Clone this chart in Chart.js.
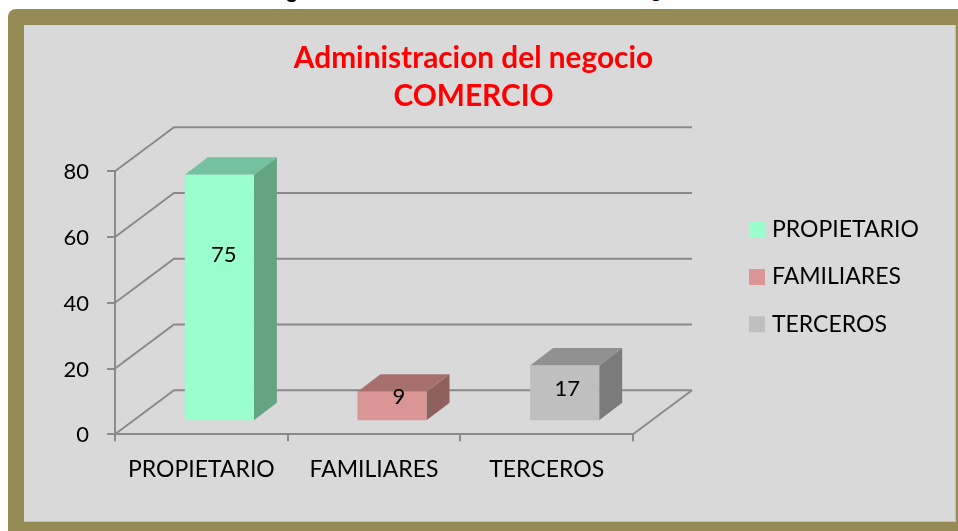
<!DOCTYPE html>
<html><head><meta charset="utf-8">
<style>
html,body{margin:0;padding:0;width:958px;height:531px;background:#fff;overflow:hidden}
#frame{position:absolute;left:8px;top:9px;width:950px;height:522px;background:#948a54;border-radius:8px 0 0 0}
#panel{position:absolute;left:24px;top:25px;width:931px;height:496px;background:#d9d9d9;border:solid #c4c2ae;border-width:0 1px 1px 0}
canvas{position:absolute;left:0;top:0}
.cap{position:absolute;top:-22px;font:20px Lato,sans-serif;color:#000;white-space:nowrap;line-height:24px}
</style>
<script src="https://cdn.jsdelivr.net/npm/chart.js@4/dist/chart.umd.min.js"></script>
</head><body>
<div id="frame"></div><div id="panel"></div>
<span class="cap" style="left:270px;font-weight:bold">Figura</span>
<span class="cap" style="left:629px">negocio</span>
<canvas id="c" width="947" height="531"></canvas>
<script>
const titleLines = ['Administracion del negocio', 'COMERCIO'];
const categories = ['PROPIETARIO', 'FAMILIARES', 'TERCEROS'];
const values = [75, 9, 17];
const frontColors = ['#99ffcc', '#da9694', '#bfbfbf'];
const topColors = ['#75c19f', '#a6706e', '#919191'];
const sideColors = ['#63a481', '#8e605e', '#7b7b7b'];
const yTicks = [0, 20, 40, 60, 80];
const labelShift = [[4.5, 80.5], [7, 5], [2.5, 23.5]];

const FONT = 'Lato, sans-serif', GRID = '#8a8a8a';
const WALL = {dx: 59, dy: -44};
const BAR_SHIFT = {dx: 18, dy: -13};
const BAR_DEPTH = {dx: 23, dy: -17.5};

const poly = (ctx, pts, fill) => {
  ctx.beginPath();
  pts.forEach((p, i) => i ? ctx.lineTo(p[0], p[1]) : ctx.moveTo(p[0], p[1]));
  ctx.closePath(); ctx.fillStyle = fill; ctx.fill();
};

const threeD = {
  id: 'threeD',
  afterLayout(chart) {
    chart.legend.left = 729.2; chart.legend.right = 947;
    chart.legend.top = 0; chart.legend.bottom = 554;
    chart.titleBlock.left = 0; chart.titleBlock.right = 947;
  },
  beforeDatasetsDraw(chart) {
    const {ctx, scales: {x, y}} = chart;
    const left = x.left, right = x.right, bottom = y.getPixelForValue(0);
    ctx.save();
    ctx.strokeStyle = GRID; ctx.lineWidth = 2;
    yTicks.forEach(v => {
      const py = y.getPixelForValue(v);
      ctx.beginPath();
      ctx.moveTo(left, py);
      ctx.lineTo(left + WALL.dx, py + WALL.dy);
      ctx.lineTo(right + WALL.dx, py + WALL.dy);
      ctx.stroke();
    });
    ctx.beginPath();
    ctx.moveTo(right, bottom);
    ctx.lineTo(right + WALL.dx, bottom + WALL.dy);
    ctx.stroke();
    // depth faces of every bar, from the library's own element geometry
    const bars = chart.getDatasetMeta(0).data;
    bars.forEach((b, i) => {
      const l = b.x - b.width / 2 + BAR_SHIFT.dx, r = b.x + b.width / 2 + BAR_SHIFT.dx;
      const t = b.y + BAR_SHIFT.dy, f = b.base + BAR_SHIFT.dy;
      const d = BAR_DEPTH;
      poly(ctx, [[r, t], [r + d.dx, t + d.dy], [r + d.dx, f + d.dy], [r, f]], sideColors[i]);
      poly(ctx, [[l, t], [l + d.dx, t + d.dy], [r + d.dx, t + d.dy], [r, t]], topColors[i]);
    });
    ctx.restore();
    ctx.save();
    ctx.translate(BAR_SHIFT.dx, BAR_SHIFT.dy);
  },
  afterDatasetsDraw(chart) {
    const {ctx} = chart;
    ctx.restore();
    ctx.save();
    ctx.font = '22px ' + FONT; ctx.fillStyle = '#000';
    ctx.textAlign = 'center'; ctx.textBaseline = 'middle';
    chart.getDatasetMeta(0).data.forEach((b, i) => {
      ctx.fillText(String(values[i]), b.x + BAR_SHIFT.dx + labelShift[i][0], b.y + BAR_SHIFT.dy + labelShift[i][1]);
    });
    ctx.restore();
  }
};

new Chart(document.getElementById('c'), {
  type: 'bar',
  data: {labels: categories, datasets: [{
    data: values, backgroundColor: frontColors, borderWidth: 0,
    barPercentage: 0.4, categoryPercentage: 1, clip: false
  }]},
  plugins: [threeD],
  options: {
    responsive: false, animation: false,
    layout: {padding: {left: 0, right: 114.4, top: 0, bottom: 0}},
    plugins: {
      tooltip: {enabled: false},
      title: {display: true, text: titleLines, color: '#ff0000', align: 'center',
        font: {family: FONT, size: 29.8, weight: 'bold', lineHeight: '38px'},
        padding: {top: 39, bottom: 56.3}},
      legend: {display: true, position: 'right', align: 'center',
        labels: {boxWidth: 7, boxHeight: 7, padding: 24.3, color: '#000',
          font: {family: FONT, size: 23},
          generateLabels: () => categories.map((c, i) => ({
            text: c, fillStyle: frontColors[i], strokeStyle: frontColors[i],
            lineWidth: 9, hidden: false, index: i, fontColor: '#000'}))}}
    },
    scales: {
      x: {
        afterFit(s) { s.height = 96.7; },
        border: {color: GRID, width: 2},
        grid: {color: GRID, lineWidth: 2, drawOnChartArea: false, tickLength: 7, offset: true},
        ticks: {color: '#000', padding: 14, maxRotation: 0, font: {family: FONT, size: 23}}
      },
      y: {
        min: 0, max: 80,
        afterFit(s) { s.width = 115; },
        afterBuildTicks(s) { s.ticks = yTicks.map(v => ({value: v})); },
        border: {color: GRID, width: 2},
        grid: {color: GRID, lineWidth: 2, drawOnChartArea: false, tickLength: 8},
        ticks: {color: '#000', padding: 18, labelOffset: 1, font: {family: FONT, size: 22}}
      }
    }
  }
});
</script>
</body></html>
